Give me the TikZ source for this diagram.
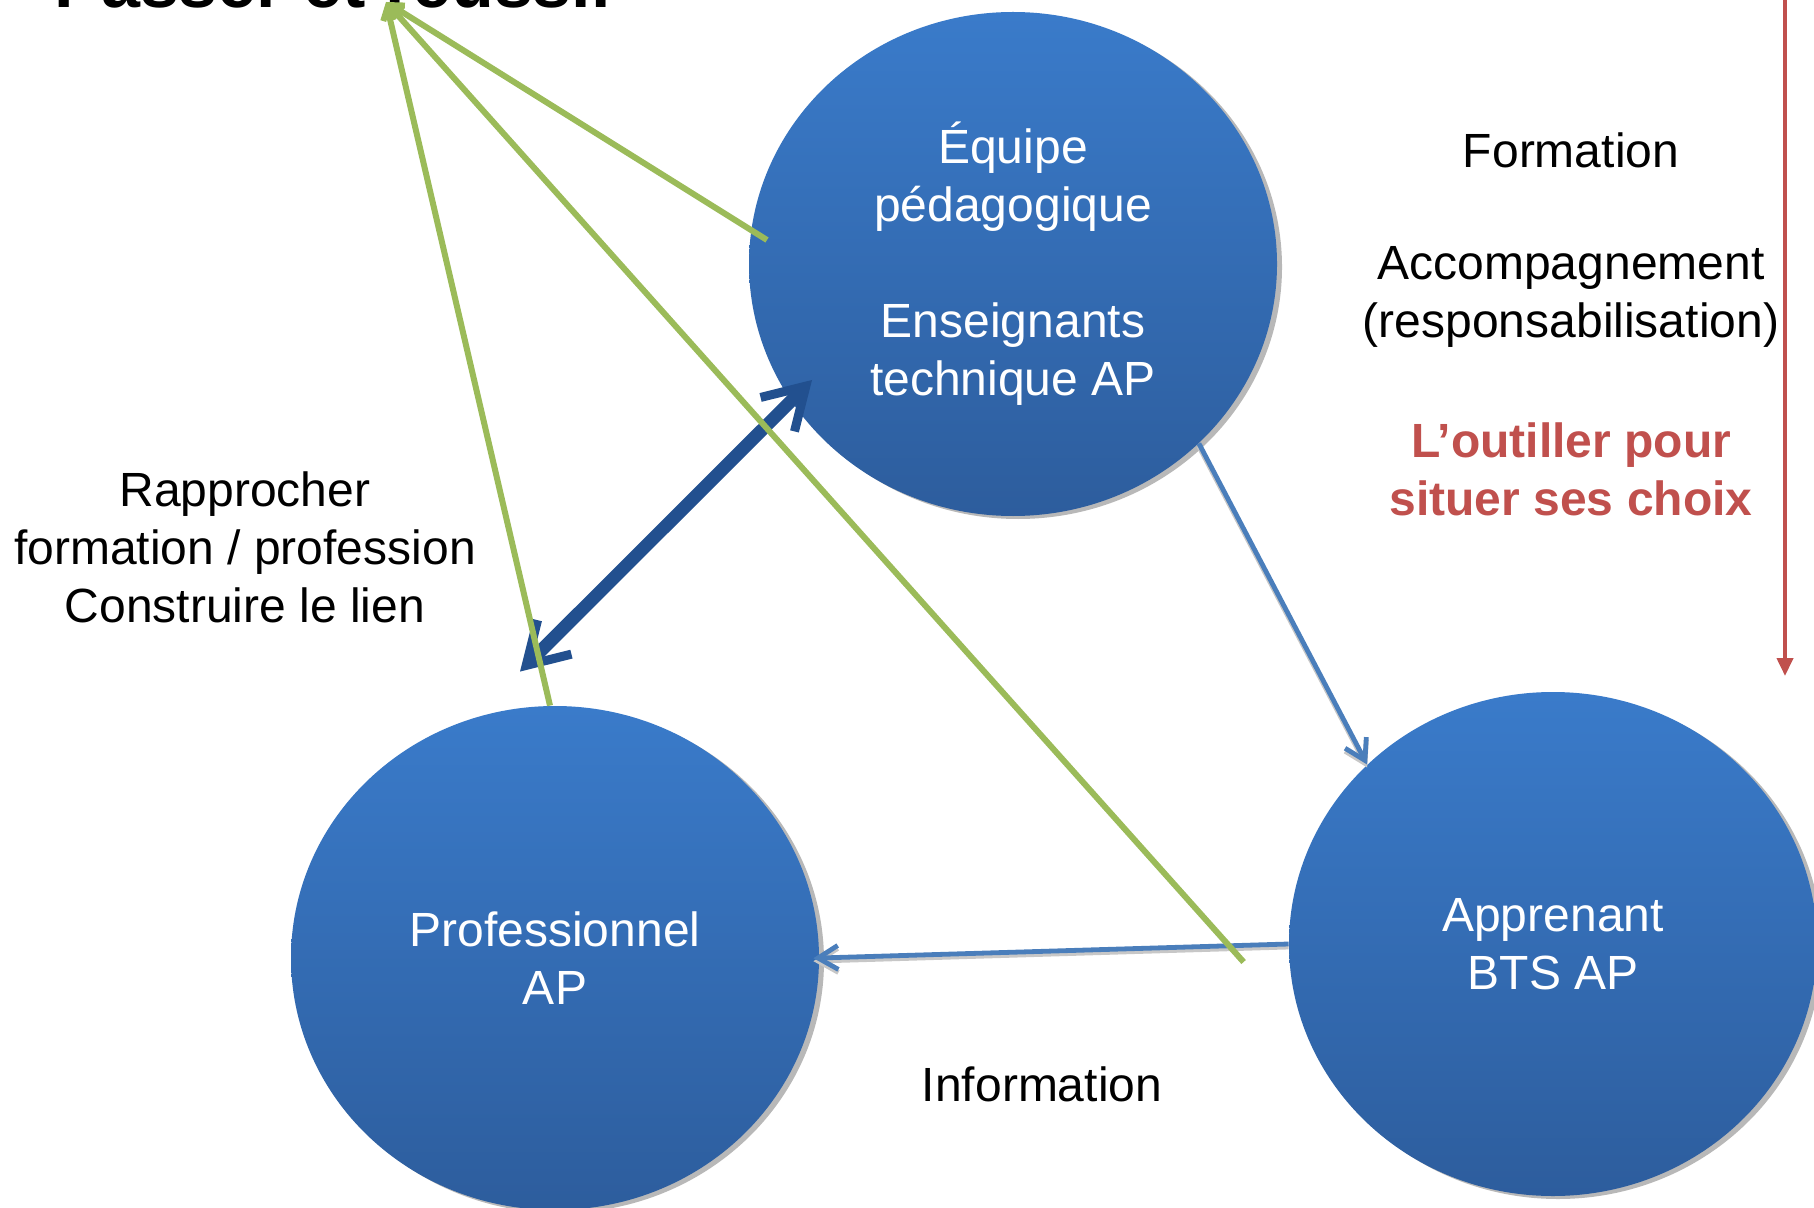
\documentclass[tikz,border=0pt]{standalone}
\usepackage{fontspec}
\setmainfont{Liberation Sans}
\usetikzlibrary{arrows.meta,shapes.geometric,shadows,calc}
\definecolor{circtop}{HTML}{3A7BCA}
\definecolor{circbot}{HTML}{2D5D9D}
\definecolor{lineblue}{HTML}{4A7EBB}
\definecolor{darkblue}{HTML}{22508F}
\definecolor{greenln}{HTML}{9BBB59}
\definecolor{redln}{HTML}{C0504D}
\tikzset{
  bubble/.style={ellipse, minimum width=264pt, minimum height=252pt, inner sep=0pt,
    top color=circtop, bottom color=circbot, draw=none, text=white,
    font=\fontsize{24}{29}\selectfont, align=center,
    drop shadow={shadow xshift=2.5pt, shadow yshift=-1.5pt, fill=black!28, opacity=1}},
  txt/.style={font=\fontsize{24}{29}\selectfont, align=center, inner sep=0pt},
  flowarrow/.style={draw=lineblue, line width=2.4pt, -{Straight Barb[length=10pt,width=12pt]},
    preaction={draw=black!22, line width=2.4pt, transform canvas={yshift=-1.5pt}}},
  linkarrow/.style={draw=darkblue, line width=6.5pt,
    {Straight Barb[length=20pt,width=24pt,line width=4.5pt]}-{Straight Barb[length=20pt,width=24pt,line width=4.5pt]}},
  aimarrow/.style={draw=greenln, line width=3pt, -{Straight Barb[length=6pt,width=7pt]}},
  timearrow/.style={draw=redln, line width=2pt, -{Triangle[length=9pt,width=8pt]}}
}
\begin{document}
\begin{tikzpicture}[x=0.5pt,y=-0.5pt]
\useasboundingbox (0,0) rectangle (1814,1208);
\clip (0,0) rectangle (1814,1208);

% circles
\node[bubble] (equipe) at (1013,264) {Équipe\\pédagogique\\[29pt]Enseignants\\technique AP};
\node[bubble] (prof) at (555,958) {Professionnel\\AP};
\node[bubble] (appr) at (1553,944) {Apprenant\\BTS AP};

% title (cut by the top edge)
\node[anchor=base west, inner sep=0pt, font=\fontsize{35}{40}\selectfont\bfseries] (title) at (54,8) {Passer et réussir};
\coordinate (goal) at ([shift={(332,-6)}]title.base west);

% blue connectors
\draw[flowarrow] (equipe.-44) -- (appr.136);
\draw[flowarrow, shorten >=-3pt] (appr.west) -- (prof.east);

% dark double arrow
\draw[linkarrow] ([shift={(-35,-34)}]prof.north) -- ([shift={(-201,116)}]equipe.center);

% green arrows to the title
\draw[aimarrow] ([xshift=-2.5pt]prof.north) -- (goal);
\draw[aimarrow] ([shift={(-246,-24)}]equipe.center) -- (goal);
\draw[aimarrow] ([shift={(-45,18)}]appr.west) -- (goal);

% red vertical arrow
\coordinate (rtop) at (1785,-10);
\coordinate (rbot) at (1785,676);
\draw[timearrow] (rtop) -- (rbot);

% texts
\node[txt] (form) at (1571,150) {Formation};
\node[txt] (acc) at (1571,297) {Accompagnement\\(responsabilisation)};
\node[txt, text=redln, font=\fontsize{24}{29}\selectfont\bfseries] (outil) at (1571,469) {L’outiller pour\\situer ses choix};
\node[txt] (rappr) at (245,547) {Rapprocher\\formation / profession\\Construire le lien};
\node[txt] (info) at (1042,1084) {Information};
\end{tikzpicture}
\end{document}
